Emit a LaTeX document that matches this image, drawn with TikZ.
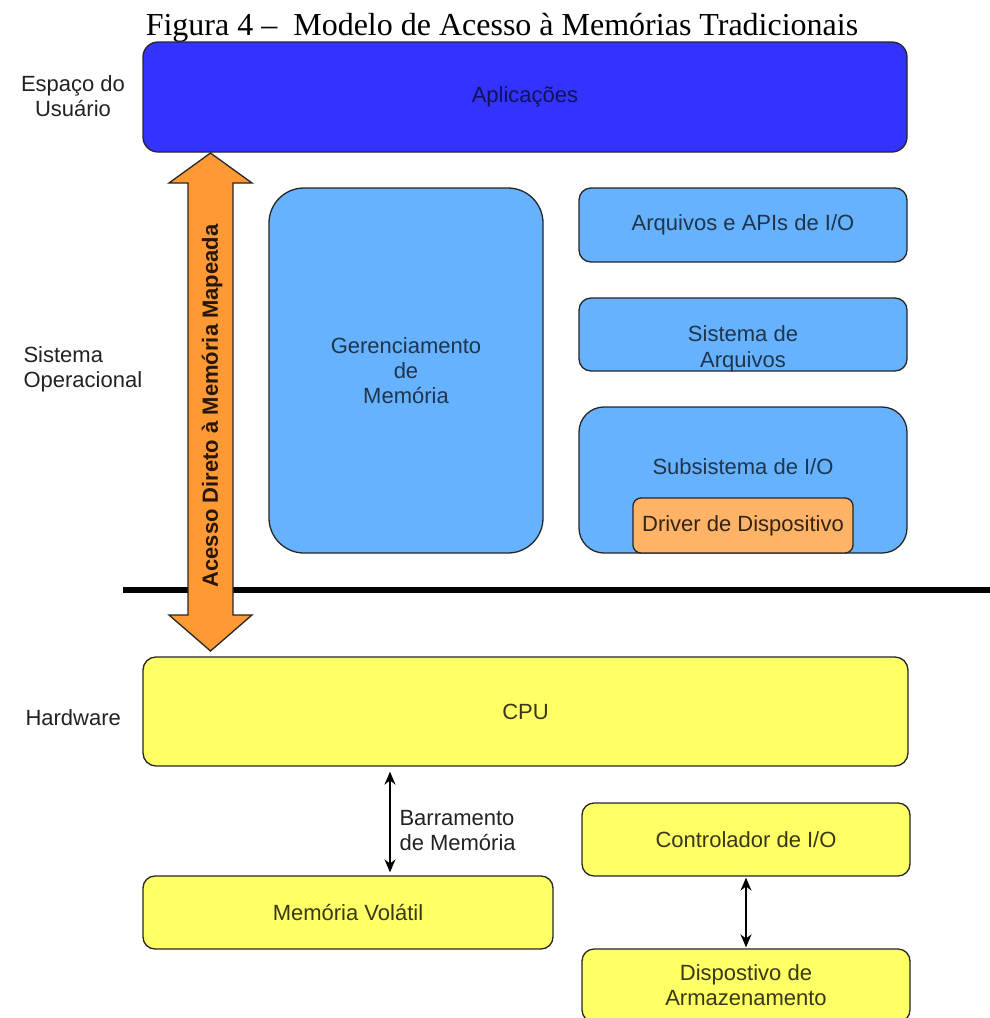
\documentclass[tikz,border=0pt]{standalone}
\usepackage{fontspec}
\setmainfont{Liberation Sans}
\newfontfamily\titlefont{Liberation Serif}
\usetikzlibrary{arrows.meta}

\definecolor{appblue}{HTML}{3333FF}
\definecolor{osblue}{HTML}{66B2FF}
\definecolor{hwyellow}{HTML}{FFFF66}
\definecolor{drvorange}{HTML}{FFB366}
\definecolor{dmaorange}{HTML}{FF9933}
\definecolor{labelgray}{HTML}{222222}

\begin{document}
\begin{tikzpicture}[x=1pt,y=-1pt,
  blk/.style={draw=black!85, line width=1.3pt, inner sep=0pt, align=center,
    font=\fontsize{22}{25}\selectfont},
  appbox/.style={blk, fill=appblue, text=appblue!35!black, rounded corners=15pt},
  osbox/.style={blk, fill=osblue, text=osblue!30!black},
  drvbox/.style={blk, fill=drvorange, text=drvorange!20!black, rounded corners=8pt},
  hwbox/.style={blk, fill=hwyellow, text=hwyellow!22!black, rounded corners=13pt},
  sidelabel/.style={text=labelgray, font=\fontsize{22}{25}\selectfont},
  busarrow/.style={draw=black, line width=1.8pt, {Stealth[length=13pt,width=11pt]}-{Stealth[length=13pt,width=11pt]}},
  dmashape/.style={draw=black!85, line width=1.3pt, fill=dmaorange, line join=miter},
  separator/.style={draw=black, line width=6pt}
]
% page frame
\fill[white] (0,0) rectangle (990,1018);
\path[use as bounding box, clip] (0,0) rectangle (990,1018);

% title
\node[anchor=base, font=\titlefont\fontsize{32}{36}\selectfont] (title) at (502,35)
  {Figura 4 –\ \ Modelo de Acesso à Memórias Tradicionais};

% user space
\node[appbox, minimum width=764pt, minimum height=110pt] (app) at (525,97) {Aplicações};

% operating system
\node[osbox, rounded corners=35pt, minimum width=274pt, minimum height=365pt] (mem) at (406,370.5)
  {Gerenciamento\\de\\Memória};
\node[osbox, rounded corners=12pt, minimum width=328pt, minimum height=74pt] (api) at (743,225)
  {Arquivos e APIs de I/O};
\node[osbox, rounded corners=12pt, minimum width=328pt, minimum height=73pt,
  label={[yshift=-14pt, align=center, text=osblue!30!black, font=\fontsize{22}{26}\selectfont]center:Sistema de\\Arquivos}]
  (fs) at (743,334.5) {};
\node[osbox, rounded corners=25pt, minimum width=328pt, minimum height=146pt,
  label={[yshift=13pt, text=osblue!30!black, font=\fontsize{22}{25}\selectfont]center:Subsistema de I/O}]
  (ios) at (743,480) {};
\node[drvbox, minimum width=220pt, minimum height=55pt] (drv) at (743,525.5) {Driver de Dispositivo};

% kernel / hardware boundary
\coordinate (sepL) at (123,590);
\coordinate (sepR) at (990,590);
\draw[separator] (sepL) -- (sepR);

% hardware
\node[hwbox, minimum width=765pt, minimum height=109pt] (cpu) at (525.5,711.5) {CPU};
\node[hwbox, rounded corners=12pt, minimum width=410pt, minimum height=73pt] (vol) at (348,912.5) {Memória Volátil};
\node[hwbox, rounded corners=12pt, minimum width=328pt, minimum height=73pt] (ctl) at (746,839.5) {Controlador de I/O};
\node[hwbox, rounded corners=12pt, minimum width=328pt, minimum height=73pt] (dsk) at (746,985.5)
  {Dispostivo de\\Armazenamento};

% layer labels
\node[sidelabel, align=center] (lblUser) at (73,96) {Espaço do\\Usuário};
\node[sidelabel, align=left, anchor=west] (lblOS) at (20,369) {Sistema\\Operacional};
\node[sidelabel, anchor=west] (lblHW) at (22,718) {Hardware};

% direct mapped memory access: double block arrow between user space and CPU
\coordinate (dmaTop) at (210.5,153);
\coordinate (dmaBot) at (210.5,651);
\draw[dmashape] (dmaTop) -- ++(41.5,30) -- ++(-19,0) -- ++(0,432) -- ++(19,0)
  -- (dmaBot) -- ++(-41.5,-36) -- ++(19,0) -- ++(0,-432) -- ++(-19,0) -- cycle;
\node[rotate=90, font=\bfseries\fontsize{22}{25}\selectfont, text=dmaorange!15!black] (dmaText)
  at (212,406) {Acesso Direto à Memória Mapeada};

% memory bus
\coordinate (busX) at (390,0);
\draw[busarrow, shorten <=5pt, shorten >=3pt] (cpu.south -| busX) -- (vol.north -| busX);
\node[sidelabel, align=left, anchor=west] (busLbl) at (396,831) {Barramento\\de Memória};

% controller to storage device
\draw[busarrow, shorten <=1pt, shorten >=1pt] (ctl.south) -- (dsk.north);
\end{tikzpicture}
\end{document}
